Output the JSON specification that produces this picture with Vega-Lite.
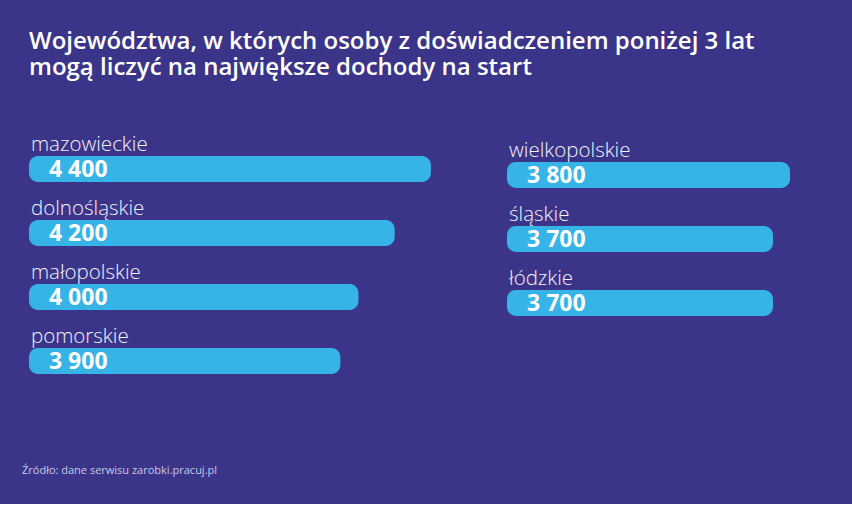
{
  "$schema": "https://vega.github.io/schema/vega-lite/v6.json",
  "background": "#3B358A",
  "padding": {"left": 22, "top": 30, "right": 45, "bottom": 28},
  "title": {
    "text": ["Województwa, w których osoby z doświadczeniem poniżej 3 lat", "mogą liczyć na największe dochody na start"],
    "anchor": "start",
    "dx": 7,
    "font": "Open Sans",
    "fontSize": 24,
    "fontWeight": 600,
    "limit": 0,
    "color": "#FFFFFF",
    "lineHeight": 26,
    "offset": 44
  },
  "datasets": {
    "left": [
      {"region": "mazowieckie", "label": "4 400", "value": 4400, "rank": 1, "base": 2180},
      {"region": "dolnośląskie", "label": "4 200", "value": 4200, "rank": 2, "base": 2180},
      {"region": "małopolskie", "label": "4 000", "value": 4000, "rank": 3, "base": 2180},
      {"region": "pomorskie", "label": "3 900", "value": 3900, "rank": 4, "base": 2180}
    ],
    "right": [
      {"region": "wielkopolskie", "label": "3 800", "value": 3800, "rank": 1, "base": 2135},
      {"region": "śląskie", "label": "3 700", "value": 3700, "rank": 2, "base": 2135},
      {"region": "łódzkie", "label": "3 700", "value": 3700, "rank": 3, "base": 2135}
    ]
  },
  "spacing": 58,
  "hconcat": [
    {
      "data": {"name": "left"},
      "width": 427,
      "height": {"step": 64},
      "title": {
        "text": "Źródło: dane serwisu zarobki.pracuj.pl",
        "orient": "bottom",
        "anchor": "start",
        "offset": 85,
        "font": "Open Sans",
        "fontSize": 11,
        "fontWeight": "normal",
        "color": "#C9C8E4"
      },
      "encoding": {
        "y": {"field": "rank", "type": "ordinal", "axis": null, "scale": {"paddingInner": 0, "paddingOuter": 0}}
      },
      "layer": [
        {
          "mark": {"type": "bar", "height": 26, "yOffset": 13, "cornerRadius": 9, "color": "#36B4E8"},
          "encoding": {
            "x": {"field": "value", "type": "quantitative", "axis": null, "scale": {"domain": [2141.5, 4500], "zero": false, "nice": false}},
            "x2": {"field": "base"}
          }
        },
        {
          "mark": {"type": "text", "align": "left", "baseline": "alphabetic", "dx": 2, "dy": -5, "font": "Open Sans", "fontSize": 20.5, "fontWeight": 300, "color": "#F2F2FA"},
          "encoding": {
            "x": {"field": "base", "type": "quantitative"},
            "text": {"field": "region"}
          }
        },
        {
          "mark": {"type": "text", "align": "left", "baseline": "alphabetic", "dx": 20, "dy": 21, "font": "Open Sans", "fontSize": 23, "letterSpacing": 1.5, "fontWeight": "bold", "color": "#FFFFFF"},
          "encoding": {
            "x": {"field": "base", "type": "quantitative"},
            "text": {"field": "label"}
          }
        }
      ]
    },
    {
      "data": {"name": "right"},
      "width": 300,
      "height": {"step": 64},
      "encoding": {
        "y": {"field": "rank", "type": "ordinal", "axis": null, "scale": {"paddingInner": 0, "paddingOuter": 0}}
      },
      "layer": [
        {
          "mark": {"type": "bar", "height": 26, "yOffset": 19, "cornerRadius": 9, "color": "#36B4E8"},
          "encoding": {
            "x": {"field": "value", "type": "quantitative", "axis": null, "scale": {"domain": [2135, 3900], "zero": false, "nice": false}},
            "x2": {"field": "base"}
          }
        },
        {
          "mark": {"type": "text", "align": "left", "baseline": "alphabetic", "dx": 2, "dy": 1, "font": "Open Sans", "fontSize": 20.5, "fontWeight": 300, "color": "#F2F2FA"},
          "encoding": {
            "x": {"field": "base", "type": "quantitative"},
            "text": {"field": "region"}
          }
        },
        {
          "mark": {"type": "text", "align": "left", "baseline": "alphabetic", "dx": 20, "dy": 27, "font": "Open Sans", "fontSize": 23, "letterSpacing": 1.5, "fontWeight": "bold", "color": "#FFFFFF"},
          "encoding": {
            "x": {"field": "base", "type": "quantitative"},
            "text": {"field": "label"}
          }
        }
      ]
    }
  ],
  "config": {"view": {"stroke": null}}
}
